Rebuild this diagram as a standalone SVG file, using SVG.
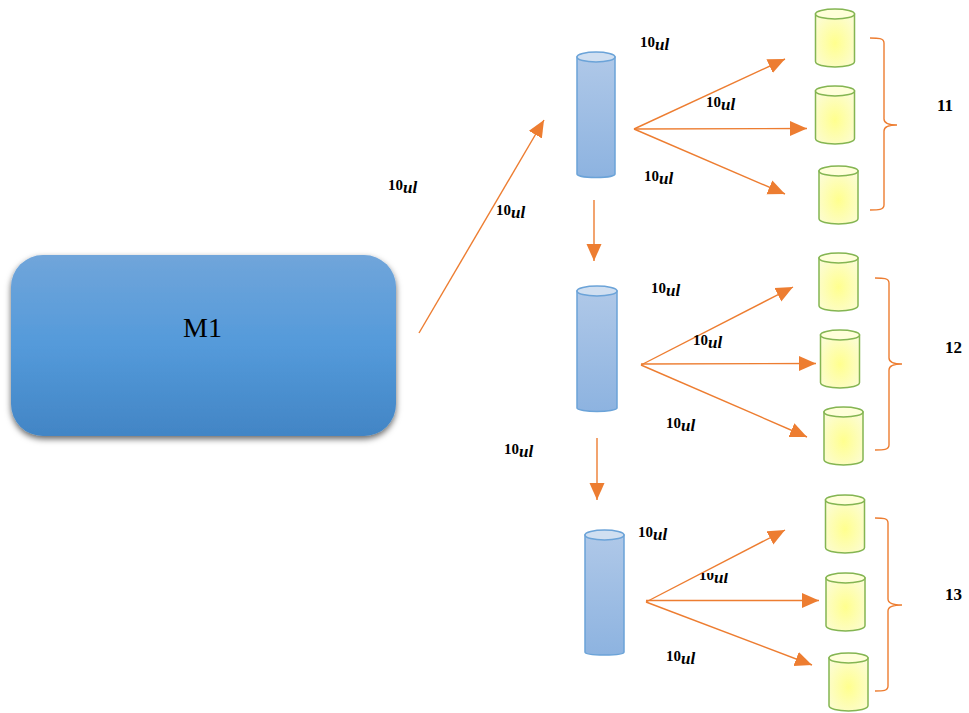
<svg xmlns="http://www.w3.org/2000/svg" width="969" height="713" viewBox="0 0 969 713">
<style>
.conn{fill:none;stroke:#ed7d31;stroke-width:1.4;marker-end:url(#ah)}
.brace{fill:none;stroke:#ed7d31;stroke-width:1.4}
.lbl{font-family:"Liberation Serif",serif;font-weight:bold;font-size:15px;fill:#000}
.u{font-family:"Liberation Serif",serif;font-weight:bold;font-style:italic;font-size:17px}
.num{font-family:"Liberation Serif",serif;font-weight:bold;font-size:17px;fill:#000}
.bb{fill:url(#bg);stroke:#6ba3d8;stroke-width:1.5}
.bt{fill:#d0dff1;stroke:#6ba3d8;stroke-width:1.5}
.gb{fill:url(#gg);stroke:#84b552;stroke-width:1.5}
.gt{fill:#ffffd9;stroke:#84b552;stroke-width:1.5}
</style>
<defs>
<marker id="ah" markerUnits="userSpaceOnUse" markerWidth="18" markerHeight="16" refX="17" refY="8" orient="auto"><path d="M0 0.5L17 8L0 15.5Z" fill="#ed7d31"/></marker>
<linearGradient id="mg" x1="0" y1="0" x2="0" y2="1"><stop offset="0" stop-color="#70a5da"/><stop offset="0.5" stop-color="#549ada"/><stop offset="1" stop-color="#4285c5"/></linearGradient>
<linearGradient id="bg" x1="0" y1="0" x2="0" y2="1"><stop offset="0" stop-color="#afc8e8"/><stop offset="1" stop-color="#8db3e0"/></linearGradient>
<radialGradient id="gg" cx="0.5" cy="0.55" r="0.62"><stop offset="0" stop-color="#ffff8e"/><stop offset="1" stop-color="#fcfcd2"/></radialGradient>
<filter id="sh" x="-5%" y="-10%" width="110%" height="125%"><feDropShadow dx="0" dy="3" stdDeviation="3" flood-color="#000" flood-opacity="0.6"/></filter>
<clipPath id="cut"><rect x="690" y="573" width="50" height="20"/></clipPath>
<path id="gc" class="gb" d="M0 5V52.500C0 56 9 58 19.500 58S39 56 39 52.500V5Z"/>
<ellipse id="ge" class="gt" cx="19.500" cy="5" rx="19.500" ry="5"/>
</defs>
<g id="M1"><rect x="11" y="255" width="385" height="181" rx="32" fill="url(#mg)" filter="url(#sh)"/><text x="202.500" y="337" text-anchor="middle" font-family="'Liberation Serif',serif" font-size="28">M1</text></g>
<g id="connectors">
<path class="conn" d="M419 333L544 120"/>
<path class="conn" d="M634 129L785 59"/><path class="conn" d="M634 129L807 128.500"/><path class="conn" d="M634 129L785 194"/>
<path class="conn" d="M594 200V261"/>
<path class="conn" d="M641 365L793 287"/><path class="conn" d="M641 364L816 363.500"/><path class="conn" d="M641 365L807 437"/>
<path class="conn" d="M597 438V500"/>
<path class="conn" d="M646 602L785 530"/><path class="conn" d="M646 600.500L819 600.500"/><path class="conn" d="M646 602L812 665"/>
<path class="brace" d="M870 38C878 38 884 38 884 43V119C884 123 888 125 897 125C888 125 884 127 884 131V205C884 210 878 210 870 210"/>
<path class="brace" d="M875 278C883 278 889 278 889 283V358C889 362 893 364 902 364C893 364 889 366 889 370V445C889 450 883 450 875 450"/>
<path class="brace" d="M875 518C883 518 888 518 888 523V599C888 603 892 605 902 605C892 605 888 607 888 611V686C888 691 883 691 875 691"/>
</g>
<g id="cyl1"><path class="bb" d="M577 57V174C577 176 586 177.500 596 177.500S615 176 615 174V57Z"/><ellipse class="bt" cx="596" cy="57" rx="19" ry="5"/></g>
<g id="cyl2"><path class="bb" d="M577 291V408C577 410 587 411.500 597 411.500S617 410 617 408V291Z"/><ellipse class="bt" cx="597" cy="291" rx="20" ry="5"/></g>
<g id="cyl3"><path class="bb" d="M585 535V652C585 654 594 655 604.500 655S624 654 624 652V535Z"/><ellipse class="bt" cx="604.500" cy="535" rx="19.500" ry="5"/></g>
<g id="t1" transform="translate(815.500 9)"><use href="#gc"/><use href="#ge"/></g>
<g id="t2" transform="translate(815.500 86)"><use href="#gc"/><use href="#ge"/></g>
<g id="t3" transform="translate(819 166)"><use href="#gc"/><use href="#ge"/></g>
<g id="t4" transform="translate(819 253)"><use href="#gc"/><use href="#ge"/></g>
<g id="t5" transform="translate(820.500 330)"><use href="#gc"/><use href="#ge"/></g>
<g id="t6" transform="translate(824 407)"><use href="#gc"/><use href="#ge"/></g>
<g id="t7" transform="translate(825.500 495)"><use href="#gc"/><use href="#ge"/></g>
<g id="t8" transform="translate(826 573)"><use href="#gc"/><use href="#ge"/></g>
<g id="t9" transform="translate(829 653)"><use href="#gc"/><use href="#ge"/></g>
<g id="labels">
<text class="lbl" x="388" y="190">10<tspan class="u" dy="3">ul</tspan></text>
<text class="lbl" x="496" y="215">10<tspan class="u" dy="3">ul</tspan></text>
<text class="lbl" x="640" y="47">10<tspan class="u" dy="3">ul</tspan></text>
<text class="lbl" x="706" y="107">10<tspan class="u" dy="3">ul</tspan></text>
<text class="lbl" x="644" y="181">10<tspan class="u" dy="3">ul</tspan></text>
<text class="lbl" x="651" y="293">10<tspan class="u" dy="3">ul</tspan></text>
<text class="lbl" x="693" y="345">10<tspan class="u" dy="3">ul</tspan></text>
<text class="lbl" x="666" y="428">10<tspan class="u" dy="3">ul</tspan></text>
<text class="lbl" x="504" y="454">10<tspan class="u" dy="3">ul</tspan></text>
<text class="lbl" x="638" y="537">10<tspan class="u" dy="3">ul</tspan></text>
<text class="lbl" x="699" y="580" clip-path="url(#cut)">10<tspan class="u" dy="3">ul</tspan></text>
<text class="lbl" x="666" y="661">10<tspan class="u" dy="3">ul</tspan></text>
<text class="num" x="937" y="111">11</text>
<text class="num" x="945" y="353">12</text>
<text class="num" x="945" y="600">13</text>
</g>
</svg>
